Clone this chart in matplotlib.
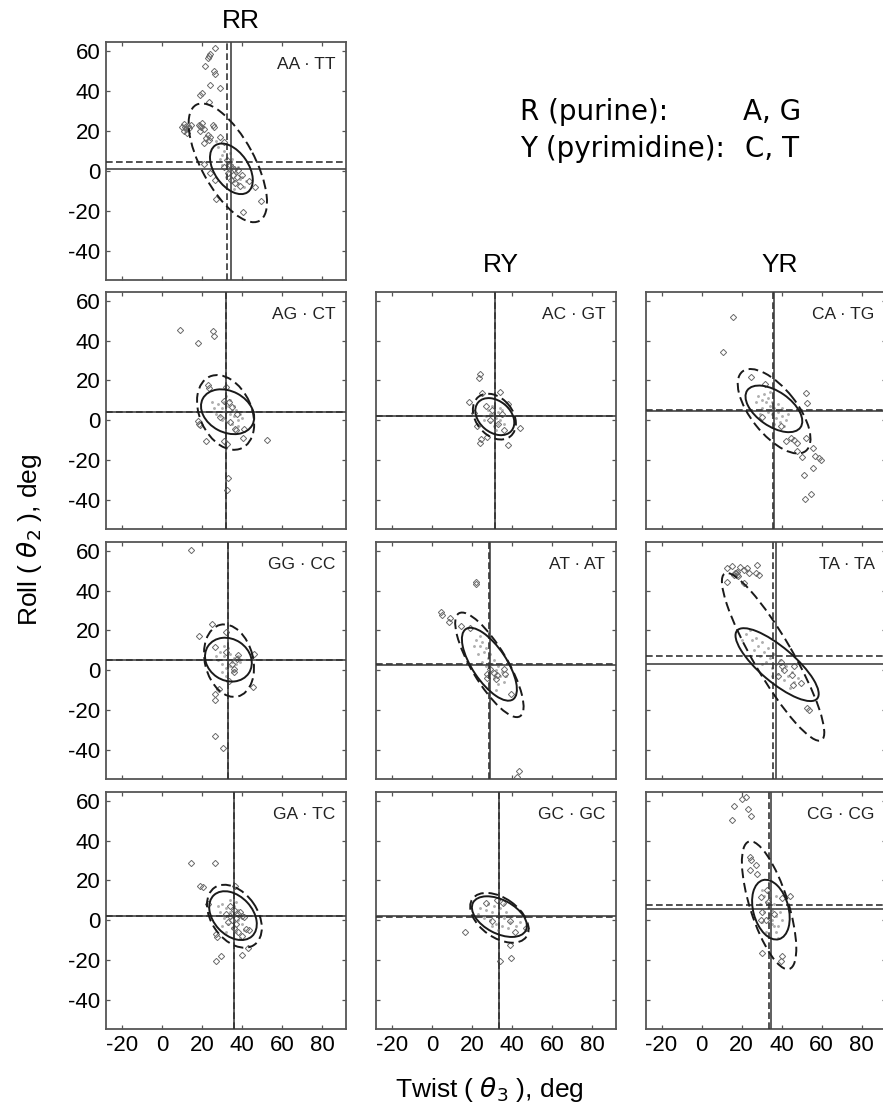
import numpy as np
import matplotlib
matplotlib.use("Agg")
import matplotlib.pyplot as plt
from matplotlib.patches import Ellipse

plt.rcParams['font.family'] = ['Liberation Sans', 'DejaVu Sans']
plt.rcParams['mathtext.fontset'] = 'dejavusans'
plt.rcParams['axes.unicode_minus'] = False

W, H = 883, 1114

# ---------------- data ----------------
xticks = [-20, 0, 20, 40, 60, 80]
yticks = [-40, -20, 0, 20, 40, 60]
xlim = (-28, 92)
ylim = (-54.7, 64.5)

col_titles = ["RR", "RY", "YR"]
legend_left = ["R (purine):", "Y (pyrimidine):"]
legend_right = ["A, G", "C, T"]

panel_names = ["AA · TT", "AG · CT", "GG · CC", "GA · TC",
               "AC · GT", "AT · AT", "GC · GC",
               "CA · TG", "TA · TA", "CG · CG"]
# grid cell (row, col) of each panel
panel_rows = [0, 1, 2, 3, 1, 2, 3, 1, 2, 3]
panel_cols = [0, 0, 0, 0, 1, 1, 1, 2, 2, 2]

# mean lines: solid (x, y) and dashed (x, y)
solid_cross = [(34.7, 1.0), (32.2, 4.3), (33.0, 5.2), (36.2, 2.3),
               (31.3, 2.0), (29.2, 2.5), (33.5, 2.0),
               (36.2, 4.5), (37.3, 3.2), (34.5, 5.8)]
dashed_cross = [(32.5, 4.3), (32.2, 4.3), (33.0, 5.2), (36.2, 2.3),
                (31.3, 2.0), (28.7, 3.0), (33.5, 1.7),
                (35.7, 5.2), (35.8, 7.0), (33.8, 7.5)]

# ellipses: (cx, cy, half x-extent, half y-extent, correlation)
solid_ell = [(34.7, 1.0, 10.7, 12.7, -0.45), (32.8, 4.25, 13.3, 11.25, -0.25),
             (33.2, 5.3, 11.7, 11.0, -0.15), (35.5, 2.3, 11.9, 12.25, -0.35),
             (31.4, 1.8, 9.75, 9.3, -0.32), (28.7, 3.0, 13.75, 18.3, -0.69),
             (33.7, 1.8, 13.75, 10.2, -0.45),
             (36.2, 5.7, 14.2, 11.7, -0.53), (37.8, 2.8, 20.8, 18.3, -0.80),
             (34.7, 5.3, 9.4, 15.0, -0.28)]
dashed_ell = [(32.9, 4.0, 19.6, 29.8, -0.66), (31.8, 3.9, 14.3, 18.75, -0.30),
              (33.5, 4.8, 12.5, 18.2, -0.20), (36.2, 2.0, 13.7, 15.8, -0.37),
              (31.2, 1.8, 10.75, 11.5, -0.30), (28.7, 2.7, 17.1, 26.25, -0.80),
              (33.7, 1.2, 14.6, 12.5, -0.45),
              (36.3, 4.5, 18.2, 21.2, -0.65), (35.8, 6.7, 25.6, 42.1, -0.90),
              (33.8, 7.5, 13.6, 32.1, -0.68)]

# open-diamond observations (twist, roll)
diamonds_AA_TT = [(26.3, 61.8), (24.2, 58.8), (23.3, 57.5), (22.8, 56.5), (21.7, 52.5), (25.8, 50.2),
                  (26.3, 48.8), (24.2, 43), (29.2, 41.8), (20, 39.2), (19.2, 38.3), (23.7, 34.7),
                  (10, 21.8), (11.7, 22.2), (12.8, 22.5), (13.3, 21.3), (10.8, 20.2), (14.5, 23),
                  (12.5, 19.2), (11, 23.5), (12.2, 20.8), (18.3, 23), (19.5, 21.8), (20.8, 20.8),
                  (18.8, 20.2), (20.2, 24.2), (19, 22.5), (25.3, 23), (25.8, 21.8), (22.2, 16.3),
                  (23.3, 15.5), (20.8, 13.8), (24.2, 17.2), (23, 18), (29.2, 16.8), (31.2, 14.7),
                  (20.8, 3.3), (24.2, -1.2), (26.3, -4.5), (27.2, -14), (40.5, -20.8), (49.5, -15),
                  (46.7, -8.3), (43.3, -5), (32.5, 5.5), (34, 3), (36, 1), (35.5, -2), (37.5, -3),
                  (33, -1), (38, 0.5), (40, -2), (34.5, -4.5), (36.5, -6), (31, 2), (39, -7.5)]
diamonds_AG_CT = [(9.2, 45.5), (25.5, 45), (26.2, 42.5), (17.8, 38.8), (23, 17.7), (23.3, 16),
                  (32.2, 16.8), (17.8, -0.3), (18.3, -2), (19.2, -2.3), (21.8, -10.3), (30.8, -10.3),
                  (32.5, -12), (40.5, -9), (52.5, -10), (36.7, -4.5), (37, -4.8), (33, -29),
                  (32.7, -35), (41, -4.5), (30.8, 9.7), (33.5, 9), (35, 6.5), (37.5, 3), (29, 1.5),
                  (34, -1)]
diamonds_GG_CC = [(14.7, 60.3), (25.2, 23.2), (18.5, 17.2), (32, 19.2), (26.7, 11.8), (45.8, 8.2),
                  (45.7, -8.2), (28.7, -9.5), (26.3, -11.8), (26.7, -15.2), (26.5, -33), (30.3, -39),
                  (35.8, 0.5), (37.5, 5.5), (35, 3), (33.5, -5.3), (32, 9), (38, 7.5), (36, -1)]
diamonds_GA_TC = [(14.5, 28.7), (26.5, 28.7), (19.2, 17), (20.7, 16.5), (36.7, 17), (22.8, 8.3),
                  (27, -6.8), (27.5, -8.5), (29.5, -18), (27.2, -20.5), (40, -17.5), (42.8, -13.8),
                  (40, -8), (42, -4.3), (43.7, -4.7), (34, 7), (36, 5), (38, 3), (40, 2), (35, 0),
                  (37, -2), (32, 3), (34, 2), (39, 4), (36, -4), (37, 1), (41, 1.5), (33, -1), (38, -6)]
diamonds_AC_GT = [(23.8, 23.2), (23.7, 21.2), (18.3, 9.2), (25, 13.7), (33.8, 14.2), (37.8, 8.3),
                  (43.8, -3.8), (38, -12.3), (24.2, -11.3), (24.7, -9.3), (27.5, -8.3), (22.5, -3),
                  (21, 3.5), (30, 5), (33, -2), (29, 0), (35, 3), (27, 7), (36, -5)]
diamonds_AT_AT = [(22, 44.3), (22, 43.5), (4.5, 29.3), (5, 27.5), (9.2, 26.2), (8.7, 24.3),
                  (14.5, 22.2), (19.2, 21), (27.5, -2), (31.2, -1.2), (32.5, -2.5), (36.7, -2),
                  (36.2, 0.5), (32.2, -4.5), (27.5, -4), (29.2, 0.5), (39.7, -12), (43.3, -50.8),
                  (42.5, -53.5)]
diamonds_GC_GC = [(27.2, 8.7), (35.5, 8.7), (32.5, 10.3), (16.7, -5.8), (30.2, -0.2), (39.2, -0.5),
                  (41.7, -6), (33.8, -20.7), (39.5, -18.8), (39.2, -12.2), (47.2, -3.8)]
diamonds_CA_TG = [(15.8, 51.8), (10.5, 34.3), (24.8, 21.5), (31.7, 18.2), (52.3, 13.7), (52.5, 8.7),
                  (30, 1.7), (39.8, -3), (42, -10.5), (44.5, -8.8), (46.2, -9.7), (47.8, -11.3),
                  (52.3, -8.8), (47.5, -15.5), (50.3, -18.5), (55.7, -13.8), (56.5, -18), (58.7, -18.8),
                  (59.5, -20.2), (55.7, -23.8), (51.2, -27.5), (54.5, -36.8), (51.8, -39.3)]
diamonds_TA_TA = [(12.8, 51.5), (15.3, 52.3), (17, 48.7), (17.8, 49.5), (19.2, 52), (21.2, 50.3),
                  (22.5, 51.5), (23.7, 48.7), (27.8, 52.8), (27, 49), (28.7, 47.8), (21.2, 43.7),
                  (12.5, 44.5), (16.2, 47.8), (17.5, 48), (16.8, 49), (18, 47.5), (39.5, 4), (40.3, 2),
                  (46.2, 2), (45.3, -2.2), (49.5, -6.3), (45.5, -7.2), (52.8, -18.8), (53.7, -20),
                  (41, 0), (38, -3)]
diamonds_CG_CG = [(20.3, 60.7), (22, 62), (16.2, 57.3), (23.2, 55.7), (24.5, 52.5), (15.3, 50.3),
                  (24.2, 31.7), (24.5, 30), (27, 27.8), (24, 25.3), (27.8, 23.2), (29.5, 11.7),
                  (32.8, 15.3), (40.3, 11.2), (44.2, 12), (29.5, 0.3), (32, 0.3), (30, -16.3),
                  (40, -18), (39.5, -20.5), (30, 4), (33, 9), (36, 3)]

# faint dot observations (twist, roll)
dots_AA_TT = [(30, 8), (32, 5), (35, 3), (37, -1), (39, -4), (33, 0), (36, 2), (31, 10), (29, 6), (38, -6),
              (40, -3), (34, -2), (36, -5), (33, 4), (28, 12), (41, -8), (35, 6), (37, 1), (32, -3),
              (30, 3), (38, 2), (34, 9), (36, -9), (27, 15), (42, -5)]
dots_AG_CT = [(28, 8), (30, 6), (32, 4), (34, 3), (36, 2), (38, 0), (26, 6), (29, 2), (31, 9), (33, 7),
              (35, 5), (37, 5), (39, 3), (27, 3), (30, 0), (33, -1), (35, -2), (36, 7), (31, 1), (34, 10),
              (40, 1), (25, 9), (32, 12), (38, -3)]
dots_GG_CC = [(29, 9), (31, 7), (33, 5), (35, 4), (37, 3), (30, 3), (32, 1), (34, 8), (36, 6), (28, 5),
              (33, 11), (35, -1), (38, 7), (31, 12), (27, 7), (36, 0), (34, 2), (32, -3), (39, 4), (30, -1)]
dots_GA_TC = [(30, 8), (32, 6), (34, 4), (36, 2), (38, 0), (31, 1), (33, -2), (35, -4), (37, -6), (29, 4),
              (40, -2), (38, 5), (34, 10), (36, 7), (32, -6), (41, -5), (28, 7), (39, -9), (30, -3), (37, 9)]
dots_AC_GT = [(28, 5), (30, 3), (32, 1), (34, 0), (29, -1), (31, -3), (33, 4), (35, 2), (27, 2), (30, 7),
              (32, -5), (36, -2), (26, 0), (34, 6), (31, 0), (29, 3), (33, -2), (35, 5)]
dots_AT_AT = [(22, 15), (24, 12), (26, 9), (28, 6), (30, 3), (32, 0), (34, -3), (36, -6), (23, 8), (25, 4),
              (27, 2), (29, -1), (31, -4), (33, -7), (25, 14), (27, 11), (29, 8), (31, 5), (33, 2), (35, -1),
              (21, 12), (37, -3), (24, 17), (32, -10)]
dots_GC_GC = [(24, 6), (27, 5), (30, 4), (33, 2), (36, 1), (39, -1), (42, -3), (26, 1), (29, 0), (32, -2),
              (35, -3), (38, -4), (28, 8), (31, 7), (34, 6), (37, 4), (40, 2), (44, -1), (23, 3), (33, -5),
              (36, 8), (30, -3)]
dots_CA_TG = [(28, 12), (30, 10), (32, 9), (34, 7), (36, 6), (38, 4), (40, 2), (42, 0), (30, 6), (33, 4),
              (35, 3), (37, 1), (39, -1), (31, 13), (33, 11), (35, 9), (38, 8), (40, 6), (27, 9), (43, 3),
              (29, 3), (36, -2), (34, 14), (41, -3)]
dots_TA_TA = [(22, 18), (25, 15), (28, 12), (31, 9), (34, 6), (37, 3), (40, 0), (43, -3), (46, -6), (26, 10),
              (29, 7), (32, 4), (35, 1), (38, -2), (41, -5), (24, 20), (27, 16), (30, 14), (33, 11), (36, 8),
              (39, 5), (42, 2), (45, -1), (48, -4), (20, 15), (44, -9), (35, -3), (30, 3)]
dots_CG_CG = [(30, 15), (31, 12), (32, 9), (33, 6), (34, 3), (35, 0), (36, -3), (37, -6), (38, -9), (29, 8),
              (31, 4), (33, 1), (35, -2), (37, 2), (39, 4), (36, 8), (34, 11), (33, 14), (30, -1), (38, -3),
              (40, 0), (32, -6), (35, 5), (37, 12)]

diamonds = [diamonds_AA_TT, diamonds_AG_CT, diamonds_GG_CC, diamonds_GA_TC,
            diamonds_AC_GT, diamonds_AT_AT, diamonds_GC_GC,
            diamonds_CA_TG, diamonds_TA_TA, diamonds_CG_CG]
dots = [dots_AA_TT, dots_AG_CT, dots_GG_CC, dots_GA_TC,
        dots_AC_GT, dots_AT_AT, dots_GC_GC,
        dots_CA_TG, dots_TA_TA, dots_CG_CG]

# ---------------- layout (pixels) ----------------
col_left = [106, 376, 645.5]
row_top = [42.3, 291.7, 541.7, 791.7]
ax_w, ax_h = 240, 237.5

fig = plt.figure(figsize=(W / 100, H / 100), dpi=100)


def fx(px):
    return px / W


def fy(py):
    return 1 - py / H


def add_ellipse(ax, p, ls, lw):
    cx, cy, hx, hy, r = p
    S = np.array([[hx * hx, r * hx * hy], [r * hx * hy, hy * hy]])
    vals, vecs = np.linalg.eigh(S)
    ang = np.degrees(np.arctan2(vecs[1, 1], vecs[0, 1]))
    e = Ellipse((cx, cy), 2 * np.sqrt(vals[1]), 2 * np.sqrt(vals[0]), angle=ang,
                fill=False, edgecolor='#1a1a1a', lw=lw, linestyle=ls, zorder=5)
    ax.add_patch(e)


for i, name in enumerate(panel_names):
    r, c = panel_rows[i], panel_cols[i]
    ax = fig.add_axes([fx(col_left[c]), fy(row_top[r] + ax_h), fx(ax_w), ax_h / H])
    ax.set_xlim(*xlim)
    ax.set_ylim(*ylim)
    ax.set_xticks(xticks)
    ax.set_yticks(yticks)
    ax.tick_params(direction='in', length=3, width=0.9, top=True, right=True,
                   labelsize=16, colors='#555', labelcolor='black', pad=4)
    if c != 0:
        ax.set_yticklabels([])
    if r != 3:
        ax.set_xticklabels([])
    for s in ax.spines.values():
        s.set_color('#555')
        s.set_linewidth(1.3)

    d = np.array(dots[i])
    ax.plot(d[:, 0], d[:, 1], ls='none', marker='.', ms=2.2, color='#b0b0b0', zorder=2)
    dm = np.array(diamonds[i])
    ax.plot(dm[:, 0], dm[:, 1], ls='none', marker='D', ms=3.2, mfc='none',
            mec='#6a6a6a', mew=0.7, zorder=3)

    sx, sy = solid_cross[i]
    dx, dy = dashed_cross[i]
    ax.axvline(sx, color='#444', lw=1.2, zorder=4)
    ax.axhline(sy, color='#444', lw=1.2, zorder=4)
    ax.axvline(dx, color='#333', lw=1.2, ls=(0, (4, 2)), zorder=4)
    ax.axhline(dy, color='#333', lw=1.2, ls=(0, (4, 2)), zorder=4)

    add_ellipse(ax, solid_ell[i], '-', 1.4)
    add_ellipse(ax, dashed_ell[i], (0, (5, 2.5)), 1.4)

    ax.text(0.955, 0.905, name, transform=ax.transAxes, ha='right', va='center',
            fontsize=12.5, color='#222')

# column titles
fig.text(fx(241), fy(21), col_titles[0], ha='center', va='center', fontsize=19)
fig.text(fx(501), fy(265.5), col_titles[1], ha='center', va='center', fontsize=19)
fig.text(fx(780), fy(265.5), col_titles[2], ha='center', va='center', fontsize=19)

# legend text
leg_font = dict(fontsize=20, family=['DejaVu Sans'], ha='left', va='baseline')
fig.text(fx(520), fy(120), legend_left[0], **leg_font)
fig.text(fx(520), fy(157), legend_left[1], **leg_font)
fig.text(fx(743), fy(120), legend_right[0], **leg_font)
fig.text(fx(745), fy(157), legend_right[1], **leg_font)

# axis labels
fig.text(fx(30), fy(540), r'Roll ( $\theta_2$ ), deg', rotation=90, ha='center', va='center',
         fontsize=19)
fig.text(fx(489), fy(1090), r'Twist ( $\theta_3$ ), deg', ha='center', va='center', fontsize=19)

fig.savefig('out.png', dpi=100)
